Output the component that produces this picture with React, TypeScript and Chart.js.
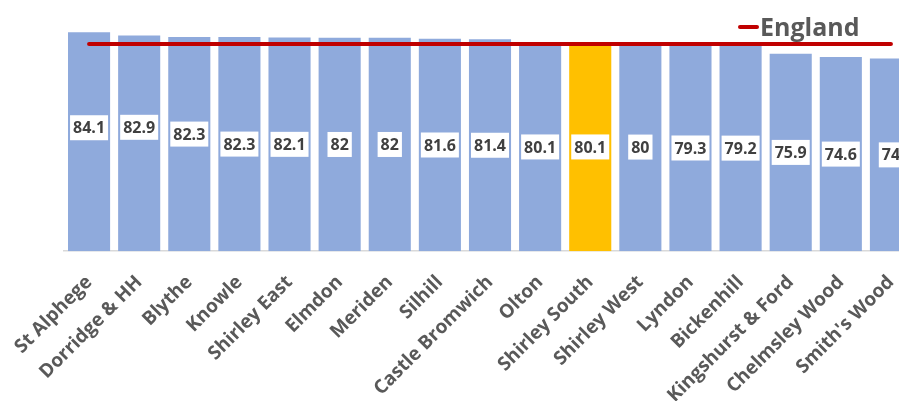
import React, { useEffect, useRef } from "react";
import { Chart, registerables } from "chart.js";

Chart.register(...registerables);

const wards = [
  "St Alphege",
  "Dorridge & HH",
  "Blythe",
  "Knowle",
  "Shirley East",
  "Elmdon",
  "Meriden",
  "Silhill",
  "Castle Bromwich",
  "Olton",
  "Shirley South",
  "Shirley West",
  "Lyndon",
  "Bickenhill",
  "Kingshurst & Ford",
  "Chelmsley Wood",
  "Smith's Wood",
];

const lifeExpectancy = [84.1, 82.9, 82.3, 82.3, 82.1, 82, 82, 81.6, 81.4, 80.1, 80.1, 80, 79.3, 79.2, 75.9, 74.6, 74];

const englandValue = 79.6;
const highlightWard = "Shirley South";

const FONT = "'Open Sans', 'DejaVu Sans', sans-serif";
const BLUE = "#8FAADC";
const GOLD = "#FFC000";
const RED = "#C00000";

// per-label vertical nudges (px) mimicking the manually placed labels
const labelNudge = [-14, -16, -10, 0, 0, 0, 0, 0, 0, 0, 0, 0, 0, 0, 0, 0, 0];

const labelPlugin = {
  id: "barLabels",
  afterDatasetsDraw(chart: any) {
    const ctx = chart.ctx;
    const meta = chart.getDatasetMeta(0);
    ctx.save();
    ctx.font = `bold 16px ${FONT}`;
    ctx.textAlign = "center";
    ctx.textBaseline = "middle";
    meta.data.forEach((bar: any, i: number) => {
      const v = chart.data.datasets[0].data[i];
      const txt = String(v);
      const cy = (bar.y + bar.base) / 2 + (labelNudge[i] || 0);
      const w = ctx.measureText(txt).width + 6;
      const h = 25;
      ctx.fillStyle = "#FFFFFF";
      ctx.fillRect(bar.x - w / 2, cy - h / 2, w, h);
      ctx.fillStyle = "#404040";
      ctx.fillText(txt, bar.x, cy + 1);
    });
    ctx.restore();
  },
  afterDraw(chart: any) {
    const ctx = chart.ctx;
    ctx.save();
    ctx.strokeStyle = RED;
    ctx.lineWidth = 4;
    ctx.lineCap = "round";
    ctx.beginPath();
    ctx.moveTo(740, 27);
    ctx.lineTo(757, 27);
    ctx.stroke();
    ctx.fillStyle = "#595959";
    ctx.font = `bold 25px ${FONT}`;
    ctx.textAlign = "left";
    ctx.textBaseline = "alphabetic";
    ctx.fillText("England", 760, 36);
    ctx.restore();
  },
};

export default function App() {
  const ref = useRef<HTMLCanvasElement | null>(null);

  useEffect(() => {
    document.body.style.margin = "0";
    const canvas = ref.current;
    if (!canvas) return;
    const chart = new Chart(canvas, {
      type: "bar",
      data: {
        labels: wards,
        datasets: [
          {
            type: "bar",
            label: "Life expectancy",
            data: lifeExpectancy,
            backgroundColor: wards.map((w) => (w === highlightWard ? GOLD : BLUE)),
            borderWidth: 0,
            categoryPercentage: 1,
            barPercentage: 0.84,
            order: 1,
          },
          {
            type: "line",
            label: "England",
            data: wards.map(() => englandValue),
            borderColor: RED,
            backgroundColor: RED,
            borderWidth: 4,
            borderCapStyle: "round",
            pointRadius: 0,
            order: 0,
          } as any,
        ],
      },
      options: {
        responsive: false,
        animation: false,
        layout: { padding: { left: 64, right: 14, top: 17, bottom: 0 } },
        plugins: {
          legend: { display: false },
          tooltip: { enabled: false },
        },
        scales: {
          x: {
            grid: { display: false },
            border: { display: true, color: "#D9D9D9", width: 1.5 },
            ticks: {
              color: "#595959",
              font: { family: FONT, size: 19, weight: "bold" },
              maxRotation: 45,
              minRotation: 45,
              padding: 12,
              autoSkip: false,
            },
          },
          y: {
            display: false,
            min: 0,
            max: 90,
          },
        },
      },
      plugins: [labelPlugin],
    });
    return () => chart.destroy();
  }, []);

  return (
    <div style={{ position: "fixed", left: 0, top: 0, width: 899, height: 401, overflow: "hidden", background: "#fff" }}>
      <canvas ref={ref} width={930} height={419} style={{ width: 930, height: 419, display: "block" }} />
    </div>
  );
}
